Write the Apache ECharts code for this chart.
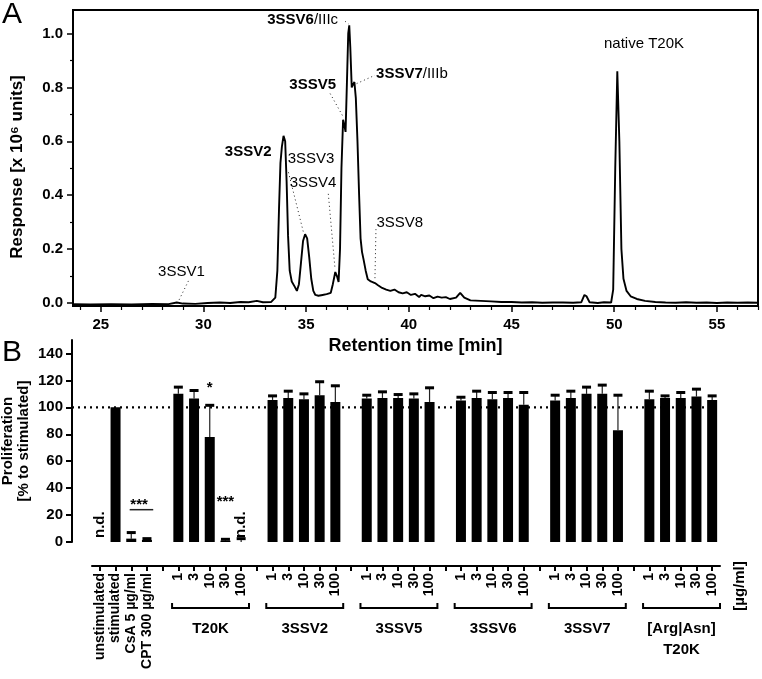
<!DOCTYPE html>
<html><head><meta charset="utf-8">
<script src="https://cdn.jsdelivr.net/npm/echarts@6/dist/echarts.min.js"></script>
<style>html,body{margin:0;padding:0;background:#fff}#c{width:762px;height:679px}</style>
</head><body><div id="c"></div>
<script>
// ---------- Panel A: chromatogram ----------
const retentionTime = [23.7,24.5,25.5,26.5,27.5,28.3,28.7,29.0,29.6,30.2,30.8,31.3,31.8,32.2,32.6,32.9,33.3,
  33.5,33.6,33.68,33.75,33.82,33.9,33.98,34.05,34.12,34.2,34.3,34.45,34.55,34.65,34.75,34.85,34.95,35.05,35.15,35.25,35.35,35.45,
  35.6,35.8,36.0,36.2,36.3,36.42,36.5,36.58,36.65,36.72,36.8,36.86,36.92,36.98,37.05,37.1,37.15,37.22,37.28,37.35,37.42,37.5,37.58,
  37.65,37.72,37.8,37.9,38.0,38.15,38.35,38.5,38.7,38.9,39.1,39.3,39.5,39.7,39.9,40.1,40.3,40.5,40.6,40.8,41.0,41.2,41.4,41.6,41.8,
  42.0,42.3,42.5,42.7,43.0,43.5,44.0,44.5,45.0,45.5,46.0,46.5,47.0,47.5,48.0,48.4,48.55,48.65,48.8,49.2,49.5,49.85,49.95,50.05,50.15,
  50.25,50.35,50.45,50.6,50.8,51.1,51.5,52.0,52.5,53.0,53.5,54.0,54.5,55.0,55.5,56.0,56.5,57.0];
const response = [-0.004,-0.005,-0.004,-0.005,-0.003,-0.004,0.002,-0.002,-0.003,0.000,0.002,0.000,0.004,0.003,0.008,0.003,0.004,
  0.02,0.12,0.35,0.52,0.58,0.62,0.60,0.45,0.25,0.12,0.08,0.06,0.045,0.07,0.15,0.23,0.255,0.24,0.17,0.09,0.045,0.03,
  0.027,0.03,0.033,0.038,0.07,0.115,0.10,0.078,0.2,0.5,0.68,0.66,0.635,0.8,1.0,1.03,0.95,0.80,0.81,0.82,0.76,0.6,0.4,
  0.24,0.19,0.16,0.12,0.088,0.08,0.074,0.066,0.056,0.05,0.045,0.05,0.04,0.036,0.04,0.03,0.034,0.022,0.03,0.025,0.028,0.018,0.024,0.02,0.022,
  0.015,0.02,0.038,0.02,0.01,0.008,0.006,0.004,0.004,0.002,0.003,0.001,0.002,0.002,0.001,0.003,0.03,0.025,0.003,0.0,0.003,0.002,0.05,0.5,0.86,
  0.6,0.2,0.09,0.045,0.025,0.015,0.008,0.004,0.002,0.001,0.003,0.001,0.002,0.0,0.002,0.001,0.002,0.001];
const xMajorTicksA = [25,30,35,40,45,50,55];
const xMinorTicksA = [24,26,27,28,29,31,32,33,34,36,37,38,39,41,42,43,44,46,47,48,49,51,52,53,54,56,57];
const yMajorTicksA = [0,0.2,0.4,0.6,0.8,1.0];
const yMinorTicksA = [0.1,0.3,0.5,0.7,0.9];
// peak annotations: text, position of text (time, response)
const peakLabelText = ['3SSV1','{b|3SSV2}','3SSV3','3SSV4','{b|3SSV5}','{b|3SSV6}/IIIc','{b|3SSV7}/IIIb','3SSV8','native T20K'];
const peakLabelTime = [28.93,32.18,35.24,35.34,35.32,34.83,40.15,39.56,51.45];
const peakLabelResp = [0.115,0.56,0.535,0.445,0.81,1.05,0.851,0.298,0.96];
// dotted leader lines: from (time, resp) to (time, resp)
const leaderFrom = [[29.27,0.082],[34.14,0.485],[36.08,0.405],[36.17,0.777],[36.9,1.045],[37.46,0.814],[38.4,0.274]];
const leaderTo   = [[28.74,0.0],[34.87,0.262],[36.41,0.125],[36.81,0.69],[37.07,1.035],[38.35,0.845],[38.35,0.088]];

// ---------- Panel B: proliferation ----------
const categories = ['unstimulated','stimulated','CsA 5 µg/ml','CPT 300 µg/ml','',
  '1','3','10','30','100','',
  '1','3','10','30','100','',
  '1','3','10','30','100','',
  '1','3','10','30','100','',
  '1','3','10','30','100','',
  '1','3','10','30','100'];
const proliferation = [null,100,2.5,1.5,null,
  110,106.5,78,1,0,null,
  105.5,107,106,109,104,null,
  106.5,107,107,106.5,104,null,
  105,107,106,107,102,null,
  105,107,110,110,83,null,
  106,107,107,108,105.5];
const errorUp = [null,null,4.5,1,null,
  5,6,23.5,1,2.5,null,
  3,5,4,10,12,null,
  2.5,4.5,2.5,3.5,10.5,null,
  2.5,5,5,4,9,null,
  4,5,5,6.5,26,null,
  6,1.5,4,5.5,3];
const notDetermined = [0,9];
const yTicksB = [0,20,40,60,80,100,120,140];
const referenceLevel = 100;
const groupNames = ['T20K','3SSV2','3SSV5','3SSV6','3SSV7','[Arg|Asn]\nT20K'];
const groupFirst = [5,11,17,23,29,35];
// significance marks: first idx, last idx, level, text, with line
const sigFirst = [2,7,8];
const sigLast = [3,7,8];
const sigLevel = [24,109,24];
const sigText = ['***','*','***'];
const sigLine = [true,false,false];

const FONT = '"Liberation Sans", Arial, Helvetica, sans-serif';
const black = '#000';

const chart = echarts.init(document.getElementById('c'), null, {renderer:'canvas'});

const lineData = retentionTime.map((t,i)=>[t,response[i]]);
const annData = peakLabelTime.map((t,i)=>[t,peakLabelResp[i]]);
const leaderData = leaderFrom.map((p,i)=>({coords:[p,leaderTo[i]]}));
const errData = [];
errorUp.forEach((e,i)=>{ if(e!==null) errData.push([i, proliferation[i], e]); });

const boldLbl = {color:black, fontFamily:FONT, fontWeight:'bold', fontSize:15};
const gridA = {left:73, right:4, top:10, bottom:373};

chart.setOption({
  animation:false,
  backgroundColor:'#fff',
  textStyle:{fontFamily:FONT},
  graphic:[
    {type:'text', left:2, top:0, style:{text:'A', fontSize:30, fontFamily:FONT, fill:black}},
    {type:'text', left:2, top:338, style:{text:'B', fontSize:30, fontFamily:FONT, fill:black}},
    {type:'text', x:740, y:586, rotation:Math.PI/2, style:{text:'[µg/ml]', fontSize:15, fontWeight:'bold', fontFamily:FONT, fill:black, align:'center', verticalAlign:'middle'}}
  ],
  grid:[
    Object.assign({show:true, borderColor:black, borderWidth:2, outerBoundsMode:'none'}, gridA),
    {left:92, right:42, top:340, bottom:137, outerBoundsMode:'none'},
    {left:72, right:42, top:340, bottom:137, outerBoundsMode:'none'},
    {left:92, right:42, top:595, height:50, outerBoundsMode:'none'},
    Object.assign({outerBoundsMode:'none'}, gridA)
  ],
  xAxis:[
    {type:'value', gridIndex:0, min:23.65, max:57, position:'bottom',
     axisLine:{show:true, onZero:false, lineStyle:{color:black, width:2}},
     axisTick:{show:true, customValues:xMajorTicksA, length:6, lineStyle:{color:black, width:1.5}},
     axisLabel:Object.assign({customValues:xMajorTicksA, margin:11}, boldLbl),
     splitLine:{show:false},
     name:'Retention time [min]', nameLocation:'middle', nameGap:31, nameMoveOverlap:false,
     nameTextStyle:{color:black, fontFamily:FONT, fontWeight:'bold', fontSize:18}},
    {type:'value', gridIndex:4, min:23.65, max:57, position:'bottom',
     axisLine:{show:false, onZero:false}, axisTick:{show:true, customValues:xMinorTicksA, length:4, lineStyle:{color:black, width:1.2}},
     axisLabel:{show:false, customValues:xMinorTicksA}, splitLine:{show:false}},
    {type:'category', gridIndex:1, data:categories, position:'bottom', offset:24,
     axisLine:{show:true, onZero:false, lineStyle:{color:black, width:2}},
     axisTick:{show:true, alignWithLabel:true, interval:0, length:5, lineStyle:{color:black, width:2}},
     axisLabel:{interval:0, rotate:90, margin:7, color:black, fontFamily:FONT, fontWeight:'bold', fontSize:14},
     splitLine:{show:false}},
    {type:'value', gridIndex:2, min:0, max:1, show:false},
    {type:'category', gridIndex:3, data:categories, show:false}
  ],
  yAxis:[
    {type:'value', gridIndex:0, min:-0.011, max:1.087,
     axisLine:{show:true, onZero:false, lineStyle:{color:black, width:2}},
     axisTick:{show:true, customValues:yMajorTicksA, length:6, lineStyle:{color:black, width:1.5}},
     axisLabel:Object.assign({customValues:yMajorTicksA, margin:10, formatter:v=>v.toFixed(1)}, boldLbl),
     splitLine:{show:false},
     name:'Response [x 10⁶ units]', nameLocation:'middle', nameGap:47, nameMoveOverlap:false,
     nameTextStyle:{color:black, fontFamily:FONT, fontWeight:'bold', fontSize:17, padding:[0,0,0,-18]}},
    {type:'value', gridIndex:4, min:-0.011, max:1.087, position:'left',
     axisLine:{show:false, onZero:false}, axisTick:{show:true, customValues:yMinorTicksA, length:3, lineStyle:{color:black, width:1.2}},
     axisLabel:{show:false, customValues:yMinorTicksA}, splitLine:{show:false}},
    {type:'value', gridIndex:1, min:0, max:150, offset:20,
     axisLine:{show:true, lineStyle:{color:black, width:2}},
     axisTick:{show:true, customValues:yTicksB, length:6, lineStyle:{color:black, width:2}},
     axisLabel:Object.assign({customValues:yTicksB, margin:9}, boldLbl),
     splitLine:{show:false},
     name:'Proliferation\n[% to stimulated]', nameLocation:'middle', nameGap:40, nameMoveOverlap:false,
     nameTextStyle:{color:black, fontFamily:FONT, fontWeight:'bold', fontSize:15, lineHeight:16}},
    {type:'value', gridIndex:2, min:0, max:150, show:false},
    {type:'value', gridIndex:3, min:0, max:10, show:false}
  ],
  series:[
    {type:'line', xAxisIndex:0, yAxisIndex:0, data:lineData, showSymbol:false, symbol:'none',
     lineStyle:{color:black, width:1.9}, silent:true, z:5},
    {type:'lines', coordinateSystem:'cartesian2d', xAxisIndex:0, yAxisIndex:0, data:leaderData,
     lineStyle:{color:'#222', width:1, type:[1,3], opacity:1}, silent:true},
    {type:'scatter', xAxisIndex:0, yAxisIndex:0, data:annData, symbolSize:0, silent:true,
     itemStyle:{opacity:1},
     label:{show:true, position:'inside', color:black, opacity:1, fontFamily:FONT, fontSize:15, textBorderWidth:0, textBorderColor:'transparent',
       formatter:p=>peakLabelText[p.dataIndex],
       rich:{b:{fontWeight:'bold', fontSize:15, fontFamily:FONT, color:black, textBorderWidth:0}}}},
    {type:'bar', xAxisIndex:2, yAxisIndex:2, data:proliferation, barWidth:10,
     itemStyle:{color:black}, silent:true},
    {type:'custom', xAxisIndex:2, yAxisIndex:2, data:errData, clip:false, silent:true,
     renderItem:(params, api)=>{
       const base = api.coord([api.value(0), api.value(1)]);
       const top = api.coord([api.value(0), api.value(1)+api.value(2)]);
       return {type:'group', children:[
         {type:'line', shape:{x1:base[0], y1:base[1], x2:top[0], y2:top[1]}, style:{stroke:'#222', lineWidth:1.2}},
         {type:'line', shape:{x1:top[0]-4.5, y1:top[1], x2:top[0]+4.5, y2:top[1]}, style:{stroke:black, lineWidth:3}}
       ]};
     }},
    {type:'scatter', xAxisIndex:2, yAxisIndex:2, data:notDetermined.map(i=>[i,0]), symbolSize:0, silent:true,
     itemStyle:{opacity:1},
     label:{show:true, formatter:'n.d.', rotate:90, position:'top', distance:4, align:'left', verticalAlign:'middle', opacity:1,
       color:black, fontFamily:FONT, fontWeight:'bold', fontSize:15, textBorderWidth:0}},
    {type:'custom', xAxisIndex:2, yAxisIndex:2, data:sigFirst.map((f,i)=>[f, sigLevel[i]]), clip:false, silent:true,
     renderItem:(params, api)=>{
       const i = params.dataIndex;
       const a = api.coord([sigFirst[i], sigLevel[i]]);
       const b = api.coord([sigLast[i], sigLevel[i]]);
       const bw = api.size([1,0])[0];
       const ch = [{type:'text', style:{text:sigText[i], x:(a[0]+b[0])/2, y:a[1]+(sigLine[i]?3:0), align:'center', verticalAlign:'bottom',
          fill:black, fontFamily:FONT, fontWeight:'bold', fontSize:15}}];
       if(sigLine[i]) ch.push({type:'line', shape:{x1:a[0]-bw*0.1, y1:a[1], x2:b[0]+bw*0.4, y2:a[1]}, style:{stroke:'#222', lineWidth:1.5}});
       return {type:'group', children:ch};
     }},
    {type:'line', xAxisIndex:3, yAxisIndex:3, data:[[0,referenceLevel],[1,referenceLevel]], symbol:'none', silent:true,
     lineStyle:{color:black, width:2.2, type:[2,4]}, z:1},
    {type:'custom', xAxisIndex:4, yAxisIndex:4, data:groupFirst.map(f=>[f,5]), clip:false, silent:true,
     renderItem:(params, api)=>{
       const i = params.dataIndex;
       const f = groupFirst[i], l = f+4;
       const bw = api.size([1,0])[0];
       const a = api.coord([f, 7.4]);
       const b = api.coord([l, 7.4]);
       const up = api.coord([f, 8.4])[1];
       const x1 = a[0]-bw*0.4, x2 = b[0]+bw*0.5;
       const ty = api.coord([f, 5.4])[1];
       return {type:'group', children:[
         {type:'polyline', shape:{points:[[x1,up],[x1,a[1]],[x2,a[1]],[x2,up]]}, style:{stroke:black, lineWidth:2, fill:null}},
         {type:'text', style:{text:groupNames[i], x:(x1+x2)/2, y:ty, align:'center', verticalAlign:'top', lineHeight:21,
           fill:black, fontFamily:FONT, fontWeight:'bold', fontSize:15}}
       ]};
     }}
  ]
});
</script></body></html>
